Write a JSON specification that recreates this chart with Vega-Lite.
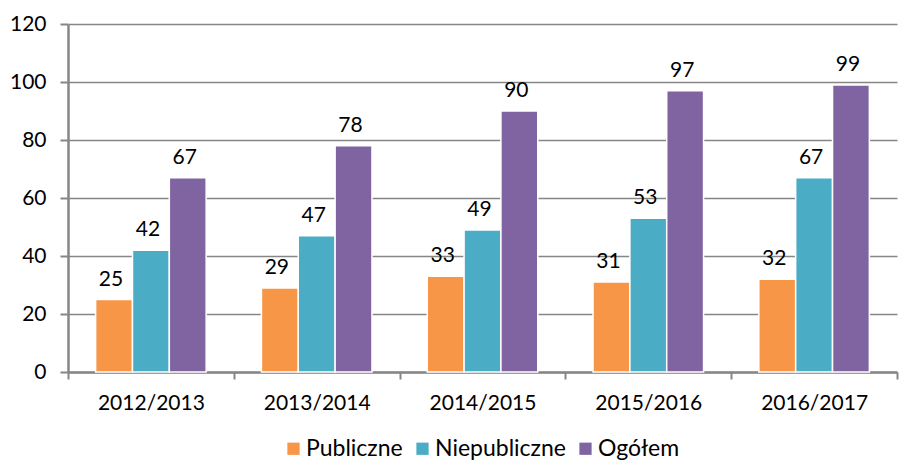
{
  "$schema": "https://vega.github.io/schema/vega-lite/v6.json",
  "width": 829,
  "height": 348,
  "autosize": "none",
  "padding": {"left": 68, "top": 24, "right": 13, "bottom": 88},
  "config": {
    "font": "Lato",
    "view": {"stroke": null}
  },
  "data": {
    "values": [
      {"rok": "2012/2013", "typ": "Publiczne", "v": 25},
      {"rok": "2012/2013", "typ": "Niepubliczne", "v": 42},
      {"rok": "2012/2013", "typ": "Ogółem", "v": 67},
      {"rok": "2013/2014", "typ": "Publiczne", "v": 29},
      {"rok": "2013/2014", "typ": "Niepubliczne", "v": 47},
      {"rok": "2013/2014", "typ": "Ogółem", "v": 78},
      {"rok": "2014/2015", "typ": "Publiczne", "v": 33},
      {"rok": "2014/2015", "typ": "Niepubliczne", "v": 49},
      {"rok": "2014/2015", "typ": "Ogółem", "v": 90},
      {"rok": "2015/2016", "typ": "Publiczne", "v": 31},
      {"rok": "2015/2016", "typ": "Niepubliczne", "v": 53},
      {"rok": "2015/2016", "typ": "Ogółem", "v": 97},
      {"rok": "2016/2017", "typ": "Publiczne", "v": 32},
      {"rok": "2016/2017", "typ": "Niepubliczne", "v": 67},
      {"rok": "2016/2017", "typ": "Ogółem", "v": 99}
    ]
  },
  "encoding": {
    "x": {
      "field": "rok",
      "type": "nominal",
      "sort": null,
      "scale": {"paddingInner": 0, "paddingOuter": 0},
      "axis": {
        "title": null,
        "labelAngle": 0,
        "labelFontSize": 21,
        "labelColor": "#000000",
        "labelPadding": 13,
        "tickBand": "extent",
        "tickSize": 7,
        "tickColor": "#868686",
        "tickWidth": 2,
        "domainColor": "#868686",
        "domainWidth": 2.5,
        "grid": false
      }
    },
    "xOffset": {
      "field": "typ",
      "sort": ["Publiczne", "Niepubliczne", "Ogółem"],
      "scale": {"paddingInner": 0, "paddingOuter": 0.75}
    },
    "y": {
      "field": "v",
      "type": "quantitative",
      "scale": {"domain": [0, 120], "nice": false},
      "axis": {
        "title": null,
        "values": [0, 20, 40, 60, 80, 100, 120],
        "labelFontSize": 21,
        "labelColor": "#000000",
        "labelPadding": 14,
        "tickSize": 8,
        "tickColor": "#868686",
        "tickWidth": 2,
        "domainColor": "#868686",
        "domainWidth": 2.5,
        "gridColor": "#868686",
        "gridWidth": 1.5
      }
    },
    "color": {
      "field": "typ",
      "type": "nominal",
      "sort": ["Publiczne", "Niepubliczne", "Ogółem"],
      "scale": {
        "domain": ["Publiczne", "Niepubliczne", "Ogółem"],
        "range": ["#F79646", "#4BACC6", "#8064A2"]
      },
      "legend": {
        "title": null,
        "orient": "none",
        "legendX": 214,
        "legendY": 413,
        "direction": "horizontal",
        "symbolType": "square",
        "symbolSize": 150,
        "symbolStrokeWidth": 0,
        "labelFontSize": 23,
        "labelColor": "#000000",
        "columnPadding": 8,
        "labelOffset": 1
      }
    }
  },
  "layer": [
    {
      "mark": {"type": "bar", "stroke": "#ffffff", "strokeWidth": 1.5}
    },
    {
      "mark": {"type": "text", "baseline": "bottom", "dy": -10, "dx": -3, "fontSize": 21, "color": "#000000"},
      "encoding": {
        "text": {"field": "v", "type": "quantitative"},
        "color": {"value": "#000000"}
      }
    }
  ]
}
